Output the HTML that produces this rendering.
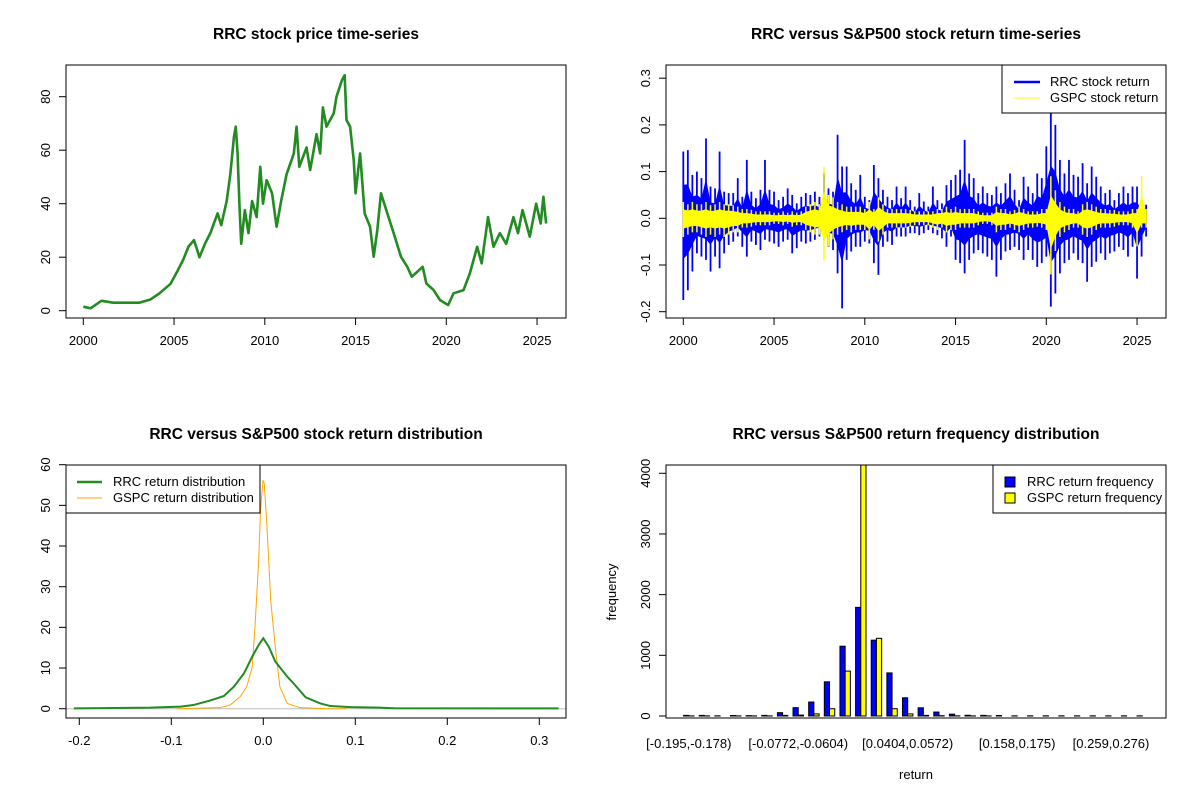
<!DOCTYPE html>
<html><head><meta charset="utf-8"><title>RRC charts</title>
<style>
html,body{margin:0;padding:0;background:#fff;}
svg{display:block;font-family:"Liberation Sans",Arial,sans-serif;}
.t{font-size:13px;fill:#000;}
.title{font-size:15.5px;font-weight:bold;fill:#000;}
</style></head>
<body>
<svg id="root" width="1200" height="800" viewBox="0 0 1200 800">
<defs>
<clipPath id="c1"><rect x="66" y="65" width="500" height="253"/></clipPath>
<clipPath id="c2"><rect x="666" y="65" width="500" height="253"/></clipPath>
<clipPath id="c3"><rect x="66" y="465" width="500" height="253"/></clipPath>
<clipPath id="c4"><rect x="666" y="465" width="500" height="253"/></clipPath>
</defs>
<text class="title" x="316" y="39" text-anchor="middle">RRC stock price time-series</text>
<text class="title" x="916" y="39" text-anchor="middle">RRC versus S&amp;P500 stock return time-series</text>
<text class="title" x="316" y="439" text-anchor="middle">RRC versus S&amp;P500 stock return distribution</text>
<text class="title" x="916" y="439" text-anchor="middle">RRC versus S&amp;P500 return frequency distribution</text>
<text class="t" x="916" y="779" text-anchor="middle">return</text>
<text class="t" x="616" y="592" text-anchor="middle" transform="rotate(-90 616 592)">frequency</text>
<g id="g1" clip-path="url(#c1)"></g>
<g id="g2" clip-path="url(#c2)"></g>
<g id="g3" clip-path="url(#c3)"></g>
<g id="g4" clip-path="url(#c4)"></g>
<g id="axes"></g>
<rect x="66" y="65" width="500" height="253" fill="none" stroke="#000"/>
<rect x="666" y="65" width="500" height="253" fill="none" stroke="#000"/>
<rect x="66" y="465" width="500" height="253" fill="none" stroke="#000"/>
<rect x="666" y="465" width="500" height="253" fill="none" stroke="#000"/>
<g>
<rect x="1002" y="65" width="164" height="48" fill="#fff" stroke="#000"/>
<line x1="1014" y1="82" x2="1040" y2="82" stroke="#0000ff" stroke-width="2.5"/>
<text class="t" x="1050" y="86">RRC stock return</text>
<line x1="1014" y1="98" x2="1040" y2="98" stroke="#ffff00" stroke-width="1"/>
<text class="t" x="1050" y="102">GSPC stock return</text>
</g>
<g>
<rect x="66" y="465" width="194" height="48" fill="#fff" stroke="#000"/>
<line x1="77" y1="482" x2="102" y2="482" stroke="#228b22" stroke-width="2.5"/>
<text class="t" x="113" y="486">RRC return distribution</text>
<line x1="77" y1="498" x2="102" y2="498" stroke="#ffa500" stroke-width="1"/>
<text class="t" x="113" y="502">GSPC return distribution</text>
</g>
<g>
<rect x="993" y="465" width="173" height="48" fill="#fff" stroke="#000"/>
<rect x="1005" y="477" width="10" height="10" fill="#0000ff" stroke="#000"/>
<text class="t" x="1027" y="486">RRC return frequency</text>
<rect x="1005" y="493" width="10" height="10" fill="#ffff00" stroke="#000"/>
<text class="t" x="1027" y="502">GSPC return frequency</text>
</g>
</svg>
<script>
// ---- Panel 1: price ----
const priceYears=[2000.0,2000.4,2001.0,2001.65,2002.4,2003.1,2003.7,2004.2,2004.8,2005.2,2005.5,2005.8,2006.1,2006.4,2006.7,2007.0,2007.4,2007.6,2007.9,2008.1,2008.3,2008.4,2008.5,2008.6,2008.7,2008.9,2009.1,2009.3,2009.55,2009.75,2009.9,2010.1,2010.4,2010.65,2010.9,2011.2,2011.6,2011.75,2011.9,2012.3,2012.5,2012.85,2013.05,2013.2,2013.4,2013.8,2013.95,2014.25,2014.4,2014.5,2014.7,2014.9,2015.0,2015.25,2015.5,2015.8,2016.0,2016.2,2016.4,2016.75,2017.1,2017.5,2017.85,2018.1,2018.7,2018.9,2019.3,2019.65,2020.1,2020.4,2020.95,2021.3,2021.7,2021.95,2022.3,2022.6,2022.95,2023.3,2023.7,2023.95,2024.2,2024.6,2024.95,2025.2,2025.35,2025.5];
const priceVals=[1.5,0.9,3.7,3,3,3,4.2,6.5,10,15,19,24,26.4,20,25,29,36.4,32,41,51,65,68.8,58.8,40,25,37.6,29,41,35,53.8,40,48.8,43.9,31.4,41,51,58.8,68.8,53.8,61,52.6,66,58.8,76,68.8,73.8,80,86.2,88,71.3,68.8,56.3,43.9,58.8,36.4,31.4,20.2,30.2,43.9,36.4,29,20.2,16.4,12.7,16.4,10.2,7.7,4,2.1,6.5,7.7,14,23.9,17.7,35,23.9,29,25,35,29,37.6,27.7,40,32.6,42.6,32.6];
const yearTicks=[2000,2005,2010,2015,2020,2025];
const priceTicks=[0,20,40,60,80];
// ---- Panel 2: returns (quarterly envelope) ----
const retStart=2000.0, retStep=0.25;
const rrcHi=[.143,.146,.093,.1,.086,.171,.068,.064,.143,.057,.054,.054,.086,.046,.125,.057,.043,.061,.125,.061,.057,.039,.046,.064,.05,.032,.046,.054,.05,.057,.046,.096,.064,.057,.179,.111,.111,.075,.061,.093,.046,.039,.114,.086,.061,.046,.039,.068,.043,.068,.039,.025,.054,.036,.025,.068,.039,.032,.071,.082,.093,.104,.168,.096,.086,.054,.068,.054,.05,.068,.054,.075,.096,.061,.039,.089,.068,.054,.096,.086,.154,.225,.2,.125,.096,.125,.093,.089,.118,.075,.111,.089,.068,.054,.061,.039,.054,.068,.054,.068,.068,.039,.029];
const rrcLo=[-.175,-.154,-.114,-.075,-.082,-.089,-.114,-.082,-.107,-.075,-.057,-.05,-.039,-.061,-.082,-.05,-.057,-.068,-.046,-.05,-.054,-.061,-.05,-.046,-.075,-.064,-.05,-.054,-.05,-.046,-.039,-.046,-.061,-.068,-.118,-.193,-.089,-.071,-.061,-.061,-.05,-.054,-.096,-.121,-.061,-.05,-.057,-.039,-.039,-.039,-.032,-.032,-.036,-.032,-.025,-.032,-.036,-.043,-.061,-.039,-.089,-.096,-.118,-.089,-.075,-.068,-.075,-.082,-.089,-.125,-.089,-.071,-.068,-.061,-.068,-.089,-.068,-.089,-.104,-.096,-.082,-.189,-.161,-.118,-.096,-.089,-.075,-.089,-.096,-.136,-.104,-.093,-.075,-.089,-.075,-.071,-.061,-.068,-.082,-.061,-.129,-.082,-.039];
const gspcHi=[.035,.03,.035,.03,.03,.035,.028,.03,.035,.03,.03,.028,.025,.02,.02,.018,.015,.015,.015,.015,.012,.012,.015,.012,.015,.012,.015,.025,.03,.035,.03,.11,.05,.045,.035,.03,.025,.025,.025,.025,.02,.035,.02,.045,.03,.02,.02,.02,.02,.02,.018,.015,.015,.015,.015,.015,.02,.02,.025,.02,.025,.02,.02,.02,.02,.015,.012,.012,.012,.025,.02,.02,.015,.018,.025,.02,.015,.015,.015,.02,.02,.09,.06,.035,.025,.02,.02,.015,.03,.035,.03,.025,.02,.02,.018,.018,.015,.015,.015,.02,.02,.09,.02];
const gspcLo=[-.04,-.035,-.03,-.03,-.035,-.04,-.035,-.04,-.035,-.04,-.035,-.03,-.03,-.02,-.02,-.018,-.015,-.015,-.015,-.015,-.012,-.012,-.015,-.012,-.018,-.015,-.015,-.025,-.03,-.035,-.035,-.09,-.06,-.045,-.035,-.03,-.025,-.03,-.025,-.025,-.025,-.045,-.025,-.05,-.035,-.02,-.02,-.02,-.02,-.02,-.018,-.015,-.015,-.015,-.015,-.02,-.025,-.02,-.03,-.025,-.025,-.02,-.02,-.02,-.02,-.015,-.012,-.012,-.015,-.03,-.025,-.025,-.02,-.025,-.03,-.025,-.02,-.02,-.018,-.02,-.025,-.12,-.07,-.04,-.03,-.025,-.02,-.02,-.035,-.04,-.035,-.025,-.02,-.02,-.02,-.018,-.015,-.015,-.015,-.02,-.06,-.02,-.02];
const retTicks=[-0.2,-0.1,0.0,0.1,0.2,0.3];
const retTickLabels=["-0.2","-0.1","0.0","0.1","0.2","0.3"];
// ---- Panel 3: densities ----
const rrcDx=[-0.206,-0.123,-0.09,-0.076,-0.058,-0.043,-0.032,-0.021,-0.012,-0.005,0.0,0.006,0.013,0.026,0.033,0.046,0.062,0.073,0.095,0.127,0.142,0.321];
const rrcDy=[0.08,0.25,0.5,0.9,2,3.1,5.4,8.7,12.8,15.7,17.3,15.2,11.6,7.9,6.2,2.8,1.3,0.65,0.4,0.25,0.1,0.08];
const gspcDx=[-0.094,-0.047,-0.036,-0.025,-0.018,-0.012,-0.009,-0.005,-0.003,-0.0004,0.001,0.004,0.008,0.013,0.018,0.026,0.04,0.069,0.091];
const gspcDy=[0,0.25,0.9,3,5.4,10.3,20.2,36.6,48.9,56.2,55.4,44.8,26.7,15.2,5.4,1.3,0.25,0,0];
const densXTicks=[-0.2,-0.1,0.0,0.1,0.2,0.3];
const densXLabels=["-0.2","-0.1","0.0","0.1","0.2","0.3"];
const densYTicks=[0,10,20,30,40,50,60];
// ---- Panel 4: histogram ----
const rrcFreq=[10,10,3,8,6,10,55,137,230,563,1150,1790,1250,710,300,135,65,30,12,10,8,3,3,3,3,3,3,3,3,3];
const gspcFreq=[2,2,0,2,2,2,10,15,35,120,740,4500,1280,120,35,10,5,3,2,2,0,0,0,0,0,0,0,0,0,0];
const binTickGroups=[0,7,14,21,27];
const binTickLabels=["[-0.195,-0.178)","[-0.0772,-0.0604)","[0.0404,0.0572)","[0.158,0.175)","[0.259,0.276)"];
const freqTicks=[0,1000,2000,3000,4000];

const NS="http://www.w3.org/2000/svg";
function mk(parent,tag,attrs){const e=document.createElementNS(NS,tag);for(const k in attrs)e.setAttribute(k,attrs[k]);parent.appendChild(e);return e;}
const axes=document.getElementById('axes');
const x1=y=>83.3+(y-2000)*18.15, y1=v=>310.7-v*2.675;
const x2=y=>683.3+(y-2000)*18.15, y2=v=>218.3-v*467;
const x3=v=>263.3+v*920, y3=v=>708.7-v*4.067;
const y4=v=>716-v*0.06068, grp=g=>688.8+15.636*g, bw=5.212;

function xTick(x,yb,label,name){
  const l=mk(axes,'line',{x1:x,y1:yb,x2:x,y2:yb+7,stroke:'#000'});
  
  
  const t=mk(axes,'text',{x:x,y:yb+27,'text-anchor':'middle',class:'t'});t.textContent=label;
  
  
}
function yTick(y,xl,label,name){
  const l=mk(axes,'line',{x1:xl,y1:y,x2:xl-7,y2:y,stroke:'#000'});
  
  
  const tx=xl-16;
  const t=mk(axes,'text',{x:tx,y:y,'text-anchor':'middle',class:'t',transform:'rotate(-90 '+tx+' '+y+')'});t.textContent=label;
  
  
}
// Panel 1
yearTicks.forEach(v=>xTick(x1(v),318,String(v),'price-x'));
priceTicks.forEach(v=>yTick(y1(v),66,String(v),'price-y'));
const g1=document.getElementById('g1');
const pl=mk(g1,'polyline',{points:priceYears.map((y,i)=>x1(y)+','+y1(priceVals[i])).join(' '),fill:'none',stroke:'#228b22','stroke-width':2.6,'stroke-linejoin':'round'});


// Panel 2
yearTicks.forEach(v=>xTick(x2(v),318,String(v),'return-x'));
retTicks.forEach((v,i)=>yTick(y2(v),666,retTickLabels[i],'return-y'));
const g2=document.getElementById('g2');
function band(hi,lo,color,name,w,f){
  const pts=[];hi.forEach((v,i)=>pts.push(x2(retStart+i*retStep)+','+y2(v*f)));
  for(let i=lo.length-1;i>=0;i--)pts.push(x2(retStart+i*retStep)+','+y2(lo[i]*f));
  const p=mk(g2,'polygon',{points:pts.join(' '),fill:color});
  
  
  hi.forEach((v,i)=>{
    const x=x2(retStart+i*retStep);
    const l=mk(g2,'line',{x1:x,y1:y2(v),x2:x,y2:y2(lo[i]),stroke:color,'stroke-width':w});
    
    
  });
}
band(rrcHi,rrcLo,'#0000ff','rrc-return',1.8,0.5);
band(gspcHi,gspcLo,'#ffff00','gspc-return',1.5,0.55);
// Panel 3
densXTicks.forEach((v,i)=>xTick(x3(v),718,densXLabels[i],'density-x'));
densYTicks.forEach(v=>yTick(y3(v),66,String(v),'density-y'));
const g3=document.getElementById('g3');
const zl=mk(g3,'line',{x1:66,y1:y3(0),x2:566,y2:y3(0),stroke:'#bebebe'});


const gd=mk(g3,'polyline',{points:gspcDx.map((x,i)=>x3(x)+','+y3(gspcDy[i])).join(' '),fill:'none',stroke:'#ffa500','stroke-width':1});


const rd=mk(g3,'polyline',{points:rrcDx.map((x,i)=>x3(x)+','+y3(rrcDy[i])).join(' '),fill:'none',stroke:'#228b22','stroke-width':2});


// Panel 4
binTickGroups.forEach((g,i)=>{
  const t=mk(axes,'text',{x:grp(g),y:748,'text-anchor':'middle',class:'t'});t.textContent=binTickLabels[i];
  
  
});
freqTicks.forEach(v=>yTick(y4(v),666,String(v),'freq-y'));
const g4=document.getElementById('g4');
rrcFreq.forEach((v,g)=>{
  const r=mk(g4,'rect',{x:grp(g)-bw,y:y4(v),width:bw,height:y4(0)-y4(v),fill:'#0000ff',stroke:'#000','stroke-width':1});
  
  
});
gspcFreq.forEach((v,g)=>{
  const r=mk(g4,'rect',{x:grp(g),y:y4(v),width:bw,height:y4(0)-y4(v),fill:'#ffff00',stroke:'#000','stroke-width':1});
  
  
});
</script>
</body></html>
